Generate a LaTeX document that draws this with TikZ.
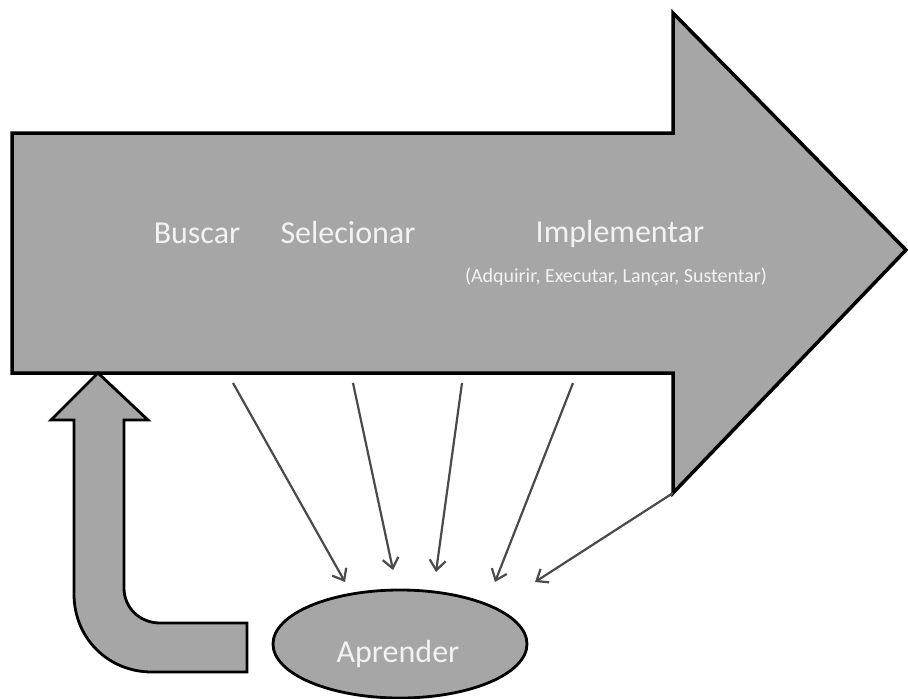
\documentclass[tikz,border=0pt]{standalone}
\usepackage{fontspec}
\setmainfont{Carlito}
\usetikzlibrary{shapes.geometric,arrows.meta}
\definecolor{shapegray}{HTML}{A6A6A6}
\definecolor{linkgray}{HTML}{4A4A4A}
\definecolor{labelwhite}{HTML}{F2F2F2}
\tikzset{
  bigshape/.style={fill=shapegray,draw=black,line width=3.5pt,line join=miter},
  bentshape/.style={fill=shapegray,draw=black,line width=2.8pt,line join=miter},
  steplabel/.style={text=labelwhite,font=\fontsize{32}{38}\selectfont,inner sep=0pt,anchor=base},
  sublabel/.style={text=labelwhite,font=\fontsize{20}{24}\selectfont,inner sep=0pt,anchor=base},
  link/.style={draw=linkgray,line width=2.2pt,-{Straight Barb[length=10pt,width=16pt,line width=2.2pt]}}
}
\begin{document}
\begin{tikzpicture}[x=1pt,y=-1pt]
\useasboundingbox (0,0) rectangle (908,699);
% main process arrow
\draw[bigshape] (12,133) -- (673,133) -- (673,13) -- (906,250) -- (673,493) -- (673,373) -- (12,373) -- cycle;
% feedback bent arrow
\draw[bentshape] (98,373) -- (148,420) -- (124,420) -- (124,588)
  .. controls (124,608) and (140,623) .. (160,623) -- (247,623) -- (247,672) -- (152,672)
  .. controls (108,672) and (74,638) .. (74,594) -- (74,420) -- (51,420) -- cycle;
% labels
\node[steplabel] (buscar) at (197,243) {Buscar};
\node[steplabel] (selecionar) at (348,243) {Selecionar};
\node[steplabel] (implementar) at (620,242) {Implementar};
\node[sublabel] (sub) at (616,282) {(Adquirir, Executar, Lançar, Sustentar)};
% learning ellipse
\node[ellipse,fill=shapegray,draw=black,line width=2.8pt,minimum width=254pt,minimum height=108pt,inner sep=0pt] (learn) at (400,644) {};
\node[steplabel] (learntext) at (398,662) {Aprender};
% link coordinates
\coordinate (s1) at (233,383); \coordinate (e1) at (345,582);
\coordinate (s2) at (353,383); \coordinate (e2) at (393,570);
\coordinate (s3) at (462,383); \coordinate (e3) at (436,572);
\coordinate (s4) at (573,383); \coordinate (e4) at (495,582);
\coordinate (s5) at (673,493); \coordinate (e5) at (535,582);
\draw[link] (s1) -- (e1);
\draw[link] (s2) -- (e2);
\draw[link] (s3) -- (e3);
\draw[link] (s4) -- (e4);
\draw[link] (s5) -- (e5);
\end{tikzpicture}
\end{document}
